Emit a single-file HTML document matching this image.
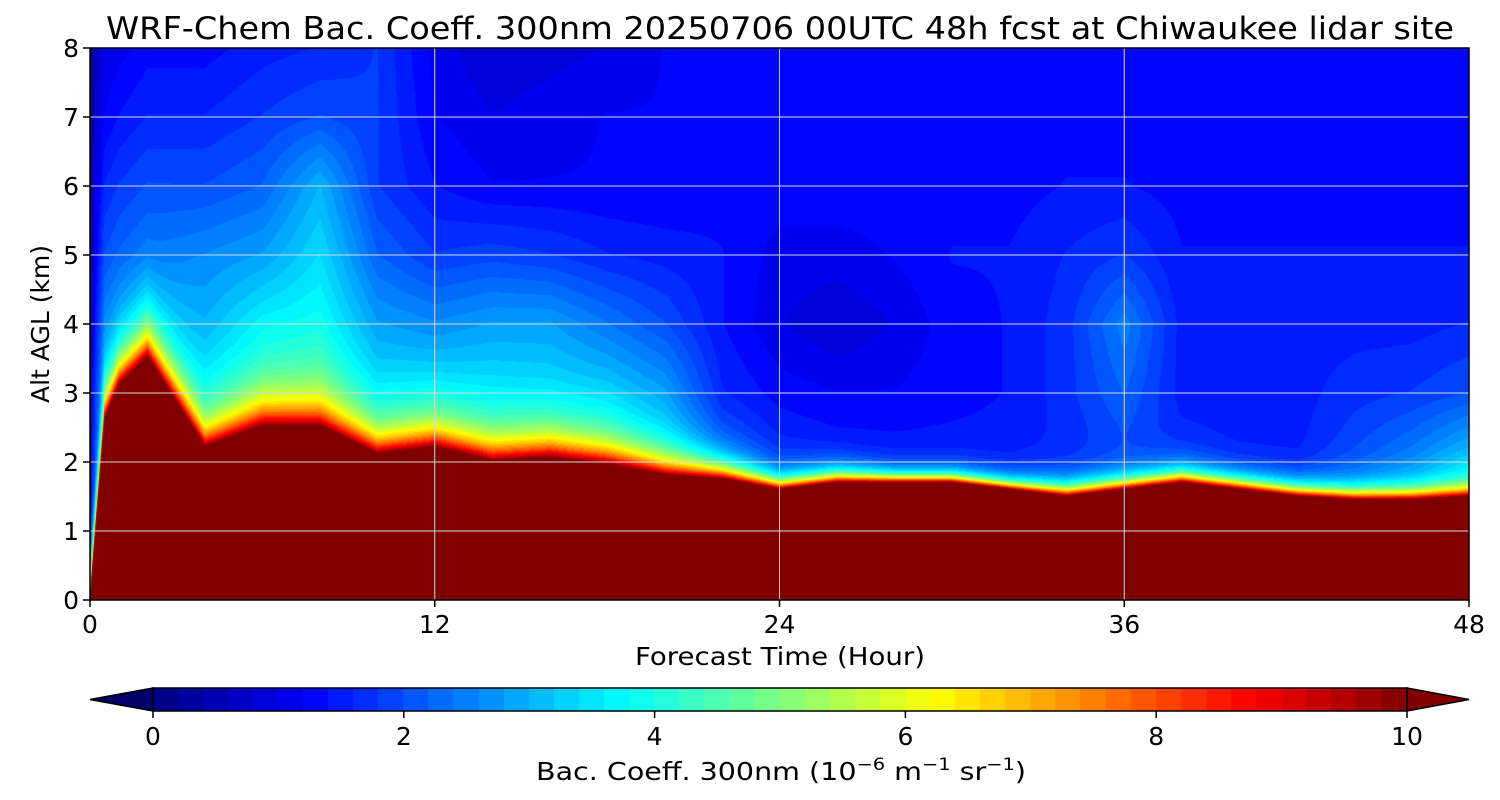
<!DOCTYPE html>
<html><head><meta charset="utf-8">
<style>
body{margin:0;background:#fff;width:1500px;height:800px;overflow:hidden;font-family:"DejaVu Sans",sans-serif}
#wrap{position:relative;width:1500px;height:800px}
canvas{position:absolute}
svg{position:absolute;left:0;top:0}
</style></head><body>
<div id="wrap">
<canvas id="plot" width="1379" height="552" style="left:90px;top:48px"></canvas>
<canvas id="cbar" width="1254" height="23" style="left:153px;top:688px"></canvas>
<svg id="ov" width="1500" height="800"></svg>
</div>
<script>
const times=[0,0.5,1,2,4,6,8,10,12,14,16,18,20,22,24,26,28,30,32,34,36,38,40,42,44,46,48];
const pblTop=[0,2.6,3.1,3.5,2.2,2.5,2.5,2.1,2.2,2.0,2.05,1.95,1.8,1.75,1.6,1.7,1.7,1.7,1.6,1.5,1.6,1.7,1.6,1.5,1.45,1.45,1.5];
const decay=[0.3,0.35,0.35,0.38,0.32,0.37,0.37,0.32,0.32,0.32,0.32,0.3,0.25,0.2,0.15,0.15,0.12,0.12,0.12,0.15,0.15,0.15,0.15,0.15,0.15,0.15,0.15];
const upperAlts=[2,3,4,5,6,7,8];
const upperVals=[
[1.2,1.0,0.8,0.6,0.5,0.4,0.3],
[3.0,3.0,2.5,2.0,1.6,1.2,1.0],
[3.3,3.3,2.8,2.2,1.8,1.4,1.1],
[3.5,3.6,3.2,2.4,2.0,1.6,1.3],
[3.8,3.6,3.0,2.6,2.0,1.6,1.3],
[4.2,4.0,3.6,2.8,2.2,1.8,1.5],
[4.2,4.2,3.8,3.4,3.0,2.0,1.6],
[3.6,3.4,2.8,2.2,1.8,1.8,1.8],
[3.8,3.4,2.6,1.8,1.4,1.2,1.1],
[3.8,3.4,2.8,1.9,1.2,1.0,0.8],
[3.8,3.3,2.8,1.8,1.2,1.1,0.9],
[3.8,3.2,2.4,1.6,1.2,1.2,1.0],
[3.4,2.8,2.0,1.5,1.2,1.2,1.2],
[2.2,1.6,1.4,1.4,1.3,1.3,1.2],
[1.7,1.3,1.0,1.1,1.3,1.3,1.2],
[1.5,1.2,0.8,1.1,1.3,1.3,1.2],
[1.5,1.2,1.0,1.2,1.3,1.3,1.2],
[1.5,1.3,1.3,1.4,1.3,1.3,1.2],
[1.5,1.4,1.4,1.4,1.3,1.3,1.2],
[1.6,1.7,1.7,1.6,1.4,1.3,1.2],
[1.8,2.2,2.5,1.8,1.4,1.3,1.2],
[1.7,1.5,1.5,1.4,1.3,1.3,1.2],
[1.5,1.5,1.5,1.4,1.3,1.3,1.2],
[1.5,1.5,1.5,1.4,1.3,1.3,1.3],
[2.0,1.7,1.5,1.4,1.3,1.3,1.3],
[2.5,1.8,1.5,1.4,1.3,1.3,1.3],
[3.2,2.0,1.6,1.4,1.3,1.3,1.3]];
const xTicks=[0,12,24,36,48];
const yTicks=[0,1,2,3,4,5,6,7,8];
const cTicks=[0,2,4,6,8,10];

const X0=90,X1=1469,Y0=600,Y1=48;
const xs=t=>X0+(t/48)*(X1-X0);
const ys=z=>Y0-(z/8)*(Y0-Y1);

function jet(v){
  if(v<0) return [0,0,102];
  if(v>10) return [128,0,0];
  const x=v/10;
  const r=Math.min(Math.max(Math.min(4*x-1.5,-4*x+4.5),0),1);
  const g=Math.min(Math.max(Math.min(4*x-0.5,-4*x+3.5),0),1);
  const b=Math.min(Math.max(Math.min(4*x+0.5,-4*x+2.5),0),1);
  return [r*255|0,g*255|0,b*255|0];
}
function tIndex(t){
  let i=0;while(i<times.length-2&&t>=times[i+1])i++;
  return [i,(t-times[i])/(times[i+1]-times[i])];
}
function lerpArr(arr,t){const [i,f]=tIndex(t);return arr[i]*(1-f)+arr[i+1]*f;}
function upper(t,z){
  const [i,f]=tIndex(t);
  let zz=Math.max(2,Math.min(8,z));
  let j=Math.min(Math.floor(zz-2),upperAlts.length-2),g=zz-2-j;
  const a=upperVals[i][j]*(1-g)+upperVals[i][j+1]*g;
  const b=upperVals[i+1][j]*(1-g)+upperVals[i+1][j+1]*g;
  return a*(1-f)+b*f;
}
function value(t,z){
  const h=lerpArr(pblTop,t),d=lerpArr(decay,t);
  if(z<h) return 11;
  const u=upper(t,z);
  return u+(10.5-u)*Math.exp(-(z-h)/d);
}
const pc=document.getElementById('plot'),ctx=pc.getContext('2d');
const W=pc.width,H=pc.height,img=ctx.createImageData(W,H);
for(let px=0;px<W;px++){
  const t=(px+0.5)/W*48;
  for(let py=0;py<H;py++){
    const z=8-(py+0.5)/H*8;
    let v=value(t,z)+0.013;
    v=v>10?11:Math.floor(v/0.2)*0.2+0.1;
    const c=jet(v),k=(py*W+px)*4;
    img.data[k]=c[0];img.data[k+1]=c[1];img.data[k+2]=c[2];img.data[k+3]=255;
  }
}
ctx.putImageData(img,0,0);
const cc=document.getElementById('cbar'),cx=cc.getContext('2d');
for(let i=0;i<50;i++){const c=jet(i*0.2+0.1);cx.fillStyle=`rgb(${c})`;cx.fillRect(Math.floor(i*cc.width/50),0,Math.ceil(cc.width/50)+1,23);}
const NS='http://www.w3.org/2000/svg',svg=document.getElementById('ov');
function el(tag,attrs,txt){const e=document.createElementNS(NS,tag);for(const k in attrs)e.setAttribute(k,attrs[k]);if(txt!==undefined)e.textContent=txt;svg.appendChild(e);return e;}
xTicks.forEach(t=>{
  const x=xs(t);
  if(t>0&&t<48){const g=el('line',{x1:x,x2:x,y1:Y1,y2:Y0,stroke:'#d8d8d8','stroke-width':1});
  
  }
  const tk=el('line',{x1:x,x2:x,y1:Y0,y2:Y0+7,stroke:'#000','stroke-width':1.5});
  
  
  const l=el('text',{x:x,y:633,'font-size':25,'text-anchor':'middle','font-family':'DejaVu Sans'},String(t));
  
  
});
yTicks.forEach(z=>{
  const y=ys(z);
  if(z>0&&z<8){const g=el('line',{x1:X0,x2:X1,y1:y,y2:y,stroke:'#d8d8d8','stroke-width':1});
  
  }
  const tk=el('line',{x1:X0-7,x2:X0,y1:y,y2:y,stroke:'#000','stroke-width':1.5});
  
  
  const l=el('text',{x:79,y:y+9,'font-size':25,'text-anchor':'end','font-family':'DejaVu Sans'},String(z));
  
  
});
const fr=el('rect',{x:X0,y:Y1,width:X1-X0,height:Y0-Y1,fill:'none',stroke:'#000','stroke-width':1.5});


const tl=el('polygon',{points:'153,688 90,699.5 153,711',fill:'rgb(0,0,102)',stroke:'#000','stroke-width':1.5});


const tr=el('polygon',{points:'1407,688 1469,699.5 1407,711',fill:'rgb(128,0,0)',stroke:'#000','stroke-width':1.5});


const cf=el('rect',{x:153,y:688,width:1254,height:23,fill:'none',stroke:'#000','stroke-width':1.5});


cTicks.forEach(v=>{
  const x=153+v/10*1254;
  const tk=el('line',{x1:x,x2:x,y1:711,y2:718,stroke:'#000','stroke-width':1.5});
  
  
  const l=el('text',{x:x,y:745,'font-size':25,'text-anchor':'middle','font-family':'DejaVu Sans'},String(v));
  
  
});
</script>
<svg width="1500" height="800" style="position:absolute;left:0;top:0;pointer-events:none">
<text x="780" y="39" font-size="31" text-anchor="middle" font-family="DejaVu Sans" textLength="1348" lengthAdjust="spacingAndGlyphs">WRF-Chem Bac. Coeff. 300nm  20250706 00UTC 48h fcst at Chiwaukee lidar site</text>
<text x="780" y="665" font-size="25" text-anchor="middle" font-family="DejaVu Sans" textLength="290" lengthAdjust="spacingAndGlyphs">Forecast Time (Hour)</text>
<text transform="translate(49,324) rotate(-90)" font-size="25" text-anchor="middle" font-family="DejaVu Sans">Alt AGL (km)</text>
<text x="781" y="780" font-size="25" text-anchor="middle" font-family="DejaVu Sans" textLength="490" lengthAdjust="spacingAndGlyphs">Bac. Coeff. 300nm  (10<tspan font-size="17" dy="-10">−6</tspan><tspan dy="10"> m</tspan><tspan font-size="17" dy="-10">−1</tspan><tspan dy="10"> sr</tspan><tspan font-size="17" dy="-10">−1</tspan><tspan dy="10">)</tspan></text>
</svg>
</body></html>
